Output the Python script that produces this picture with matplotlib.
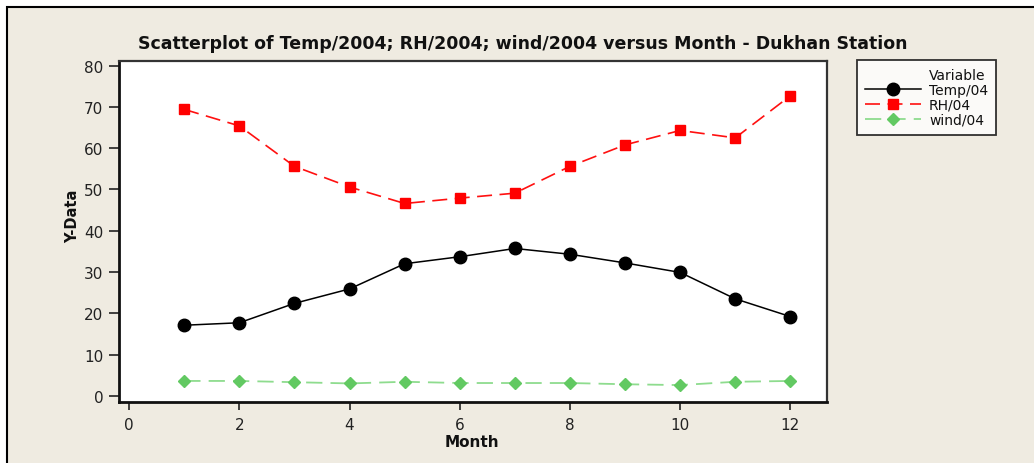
import matplotlib
matplotlib.use("Agg")
import matplotlib.pyplot as plt
from matplotlib.patches import Rectangle
from matplotlib.lines import Line2D

months = [1, 2, 3, 4, 5, 6, 7, 8, 9, 10, 11, 12]
temp04 = [17.1, 17.7, 22.4, 25.9, 32.0, 33.7, 35.7, 34.3, 32.2, 29.9, 23.5, 19.2]
rh04 = [69.4, 65.4, 55.6, 50.6, 46.6, 47.9, 49.1, 55.6, 60.8, 64.3, 62.5, 72.7]
wind04 = [3.6, 3.6, 3.3, 3.0, 3.4, 3.1, 3.1, 3.1, 2.8, 2.6, 3.4, 3.6]

x_ticks = [0, 2, 4, 6, 8, 10, 12]
y_ticks = [0, 10, 20, 30, 40, 50, 60, 70, 80]

title = "Scatterplot of Temp/2004; RH/2004; wind/2004 versus Month - Dukhan Station"
series_labels = ["Temp/04", "RH/04", "wind/04"]

plt.rcParams['font.family'] = ['DejaVu Sans']

W, H = 1034, 464
fig = plt.figure(figsize=(W / 100, H / 100), dpi=100)
fig.patch.set_facecolor('white')

bg = Rectangle((7 / W, -0.05), 1.2, 1 - 8 / H + 0.05, transform=fig.transFigure,
               facecolor='#EFEBE1', edgecolor='black', linewidth=1.5, zorder=-10)
fig.patches.append(bg)

ax = fig.add_axes([118.7 / W, 1 - 403 / H, (826.7 - 118.7) / W, (403 - 61.7) / H])
ax.set_facecolor('white')

ax.plot(months, temp04, color='black', linestyle='-', linewidth=1.1,
        marker='o', markersize=9, markerfacecolor='black', markeredgecolor='black',
        label=series_labels[0], zorder=3)
ax.plot(months, rh04, color='#FF1010', linestyle=(0, (9, 4.5)), linewidth=1.2,
        marker='s', markersize=7.5, markerfacecolor='#FF0000', markeredgecolor='#FF0000',
        label=series_labels[1], zorder=3)
ax.plot(months, wind04, color='#8EDC8E', linestyle=(0, (9, 4.5)), linewidth=1.3,
        marker='D', markersize=6.5, markerfacecolor='#62C962', markeredgecolor='#62C962',
        label=series_labels[2], zorder=3)

ax.set_xlim(-0.19, 12.66)
ax.set_ylim(-1.5, 81.2)
ax.set_xticks(x_ticks)
ax.set_yticks(y_ticks)
ax.set_xticklabels([str(v) for v in x_ticks])
ax.set_yticklabels([str(v) for v in y_ticks])
ax.tick_params(axis='both', direction='out', length=6, width=1.2, color='#222222',
               labelsize=11, labelcolor='#222222')
ax.tick_params(axis='y', length=7, pad=4)
ax.tick_params(axis='x', pad=5)

for side in ['left', 'bottom']:
    ax.spines[side].set_linewidth(2.0)
    ax.spines[side].set_color('#111111')
for side in ['top', 'right']:
    ax.spines[side].set_linewidth(1.6)
    ax.spines[side].set_color('#333333')

fig.text(523 / W, 1 - 44 / H, title, ha='center', va='center',
         fontsize=12.5, fontweight='bold', color='#111111')
fig.text(472 / W, 1 - 443 / H, "Month", ha='center', va='center',
         fontsize=11, fontweight='bold', color='#111111')
fig.text(73 / W, 1 - 216 / H, "Y-Data", ha='center', va='center', rotation=90,
         fontsize=10.5, fontweight='bold', color='#111111')

handles, labels = ax.get_legend_handles_labels()
dummy = Line2D([], [], linestyle='none', marker='none')
leg = fig.legend([dummy] + handles, ["Variable"] + labels,
                 loc='upper left', bbox_to_anchor=(856.7 / W, 1 - 61 / H),
                 borderaxespad=0, frameon=True, fancybox=False, fontsize=10,
                 handlelength=4.0, handletextpad=0.6, labelspacing=0.05,
                 borderpad=0.6, edgecolor='black')
leg.get_frame().set_linewidth(1.3)
leg.get_frame().set_facecolor('white')
for t in leg.get_texts():
    t.set_color('#111111')

fig.savefig('out.png', dpi=100, facecolor=fig.get_facecolor())
